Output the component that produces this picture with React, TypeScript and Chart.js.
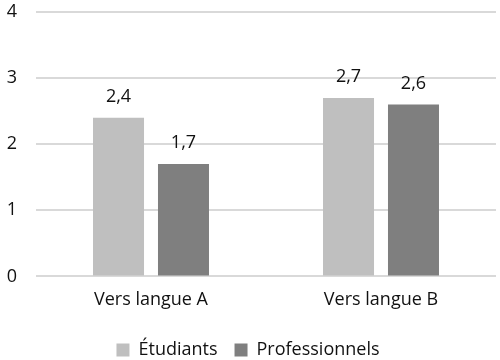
import React, { useEffect, useRef } from "react";
import { Chart, registerables } from "chart.js";

Chart.register(...registerables);

const categories = ["Vers langue A", "Vers langue B"];
const seriesNames = ["Étudiants", "Professionnels"];
const etudiants = [2.4, 2.7];
const professionnels = [1.7, 2.6];
const yTicks = [0, 1, 2, 3, 4];

const FONT = "'Open Sans', sans-serif";
const SIZE = 18;

const valueLabels = {
  id: "valueLabels",
  afterDatasetsDraw(chart: any) {
    const ctx = chart.ctx;
    ctx.save();
    ctx.font = `${SIZE}px ${FONT}`;
    ctx.fillStyle = "#111";
    ctx.textAlign = "center";
    ctx.textBaseline = "bottom";
    chart.data.datasets.forEach((ds: any, i: number) => {
      const meta = chart.getDatasetMeta(i);
      meta.data.forEach((bar: any, j: number) => {
        const v = ds.data[j] as number;
        ctx.fillText(v.toFixed(1).replace(".", ","), bar.x, bar.y - 12);
      });
    });
    ctx.restore();
  },
};

export default function App() {
  const ref = useRef<HTMLCanvasElement | null>(null);
  useEffect(() => {
    document.body.style.margin = "0";
    const chart = new Chart(ref.current!, {
      type: "bar",
      data: {
        labels: categories,
        datasets: [
          { label: seriesNames[0], data: etudiants, backgroundColor: "#bfbfbf" },
          { label: seriesNames[1], data: professionnels, backgroundColor: "#7f7f7f" },
        ],
      },
      options: {
        animation: false,
        responsive: false,
        devicePixelRatio: 1,
        layout: { padding: { top: 12, right: 4, left: 0, bottom: -9 } },
        datasets: { bar: { categoryPercentage: 0.565, barPercentage: 0.785 } },
        scales: {
          x: {
            grid: { display: false, drawTicks: false },
            border: { display: false },
            ticks: { font: { family: FONT, size: SIZE }, color: "#111", padding: 13 },
          },
          y: {
            min: 0,
            max: 4,
            afterFit: (s: any) => { s.width = 36; s.paddingTop = 0; s.paddingBottom = 0; },
            afterBuildTicks: (s: any) => { s.ticks = yTicks.map((v) => ({ value: v })); },
            grid: { color: "#d9d9d9", lineWidth: 2, drawTicks: false },
            border: { display: false },
            ticks: { font: { family: FONT, size: SIZE }, color: "#111", padding: 19, callback: (v: any) => String(v) },
          },
        },
        plugins: {
          legend: {
            position: "bottom",
            labels: {
              font: { family: FONT, size: SIZE },
              color: "#111",
              boxWidth: 13,
              boxHeight: 13,
              padding: 17,
            },
          },
          tooltip: { enabled: false },
        },
      },
      plugins: [valueLabels],
    });
    return () => chart.destroy();
  }, []);
  return <canvas ref={ref} width={500} height={360} style={{ display: "block" }} />;
}
